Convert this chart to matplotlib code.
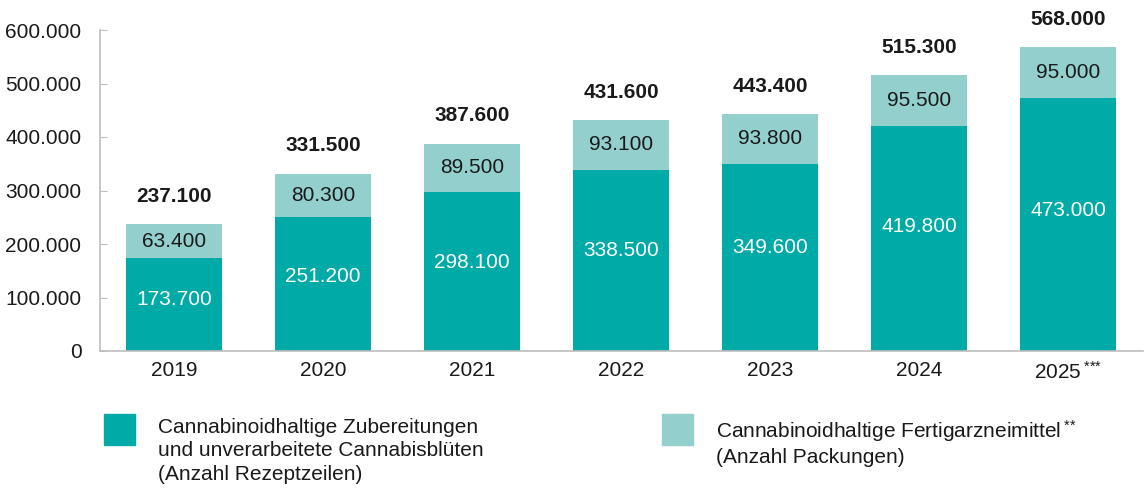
import matplotlib
matplotlib.use("Agg")
import matplotlib.pyplot as plt
from matplotlib.patches import Rectangle

# ---- Data ----
years = ["2019", "2020", "2021", "2022", "2023", "2024", "2025$\\,^{{*}{*}{*}}$"]
zubereitungen = [173700, 251200, 298100, 338500, 349600, 419800, 473000]
fertigarzneimittel = [63400, 80300, 89500, 93100, 93800, 95500, 95000]
totals = [237100, 331500, 387600, 431600, 443400, 515300, 568000]

legend_dark = "Cannabinoidhaltige Zubereitungen\nund unverarbeitete Cannabisblüten\n(Anzahl Rezeptzeilen)"
legend_light = "Cannabinoidhaltige Fertigarzneimittel$\\,^{{*}{*}}$\n(Anzahl Packungen)"

DARK = "#00aaa6"
LIGHT = "#93cfcd"
TEXT = "#1a1a1a"
GRID = "#bdbdbd"

plt.rcParams.update(
    {
        "font.family": "Liberation Sans",
        "mathtext.fontset": "custom",
        "mathtext.rm": "Liberation Sans",
        "mathtext.it": "Liberation Sans",
        "mathtext.bf": "Liberation Sans:bold",
        "font.size": 15,
    }
)


def fmt(v):
    return f"{v:,.0f}".replace(",", ".")


fig = plt.figure(figsize=(11.44, 4.95), dpi=100)
ax = fig.add_axes([99.5 / 1144, 1 - 351 / 495, 1043 / 1144, 321 / 495])

x = list(range(len(years)))
w = 0.645
ax.bar(x, zubereitungen, width=w, color=DARK, zorder=2)
ax.bar(x, fertigarzneimittel, width=w, bottom=zubereitungen, color=LIGHT, zorder=2)

for i in x:
    ax.text(i, zubereitungen[i] * 0.555, fmt(zubereitungen[i]), ha="center", va="center",
            color="white", fontsize=15)
    ax.text(i, zubereitungen[i] + fertigarzneimittel[i] / 2, fmt(fertigarzneimittel[i]),
            ha="center", va="center", color=TEXT, fontsize=15)
    ax.annotate(fmt(totals[i]), (i, totals[i]), xytext=(0, 20), textcoords="offset points",
                ha="center", va="center", color=TEXT, fontsize=15, fontweight="bold")

ax.set_xlim(-0.5, 6.5)
ax.set_ylim(0, 600000)
ax.set_yticks(range(0, 600001, 100000))
ax.set_yticklabels([fmt(v) for v in range(0, 600001, 100000)])
ax.set_xticks(x)
ax.set_xticklabels(years)

for s in ["top", "right"]:
    ax.spines[s].set_visible(False)
for s in ["left", "bottom"]:
    ax.spines[s].set_color(GRID)
    ax.spines[s].set_linewidth(1.2)
ax.tick_params(axis="y", direction="in", length=5, color=GRID, pad=13, labelsize=15,
               labelcolor=TEXT)
ax.tick_params(axis="x", length=0, pad=7, labelsize=15, labelcolor=TEXT)

# ---- Legend ----
fig.add_artist(Rectangle((104 / 1144, 1 - 445 / 495), 31 / 1144, 31 / 495,
                         transform=fig.transFigure, color=DARK))
fig.add_artist(Rectangle((662 / 1144, 1 - 445 / 495), 31 / 1144, 31 / 495,
                         transform=fig.transFigure, color=LIGHT))
fig.text(158 / 1144, 1 - 418 / 495, legend_dark, ha="left", va="top", fontsize=15,
         color=TEXT, linespacing=1.3)
fig.text(716 / 1144, 1 - 418 / 495, legend_light, ha="left", va="top", fontsize=15,
         color=TEXT, linespacing=1.3)

fig.savefig("out.png", dpi=100)
